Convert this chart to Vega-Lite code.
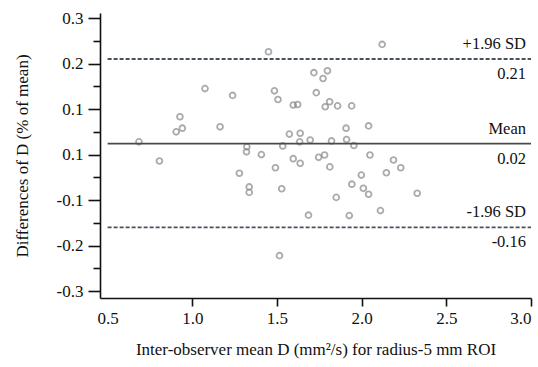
{
  "$schema": "https://vega.github.io/schema/vega-lite/v6.json",
  "width": 431,
  "height": 285,
  "autosize": {"type": "none"},
  "padding": {"left": 100, "top": 13, "right": 7, "bottom": 69},
  "background": "white",
  "config": {
    "view": {"stroke": null},
    "font": "Liberation Serif",
    "axis": {
      "domainColor": "#111",
      "domainWidth": 1.6,
      "tickColor": "#111",
      "tickWidth": 1.6,
      "labelFont": "Liberation Serif",
      "labelFontSize": 17,
      "labelColor": "#111",
      "titleFont": "Liberation Serif",
      "titleFontSize": 17,
      "titleFontWeight": "normal",
      "titleColor": "#111",
      "grid": false
    }
  },
  "datasets": {
    "pts": [
      {"m": 0.685, "d": 0.028}, {"m": 0.806, "d": -0.014}, {"m": 0.905, "d": 0.050},
      {"m": 0.941, "d": 0.058}, {"m": 0.927, "d": 0.083}, {"m": 1.075, "d": 0.145},
      {"m": 1.164, "d": 0.061}, {"m": 1.238, "d": 0.130}, {"m": 1.278, "d": -0.041},
      {"m": 1.322, "d": 0.017}, {"m": 1.320, "d": 0.006}, {"m": 1.408, "d": 0.000},
      {"m": 1.336, "d": -0.071}, {"m": 1.336, "d": -0.083}, {"m": 1.450, "d": 0.226},
      {"m": 1.485, "d": 0.140}, {"m": 1.506, "d": 0.121}, {"m": 1.491, "d": -0.029},
      {"m": 1.534, "d": 0.019}, {"m": 1.528, "d": -0.075}, {"m": 1.515, "d": -0.222},
      {"m": 1.573, "d": 0.045}, {"m": 1.596, "d": 0.109}, {"m": 1.622, "d": 0.110},
      {"m": 1.596, "d": -0.009}, {"m": 1.637, "d": 0.047}, {"m": 1.634, "d": 0.028},
      {"m": 1.637, "d": -0.019}, {"m": 1.696, "d": 0.032}, {"m": 1.686, "d": -0.133},
      {"m": 1.718, "d": 0.180}, {"m": 1.798, "d": 0.184}, {"m": 1.772, "d": 0.167},
      {"m": 1.732, "d": 0.136}, {"m": 1.746, "d": -0.006}, {"m": 1.781, "d": -0.001},
      {"m": 1.811, "d": 0.116}, {"m": 1.785, "d": 0.105}, {"m": 1.812, "d": -0.027},
      {"m": 1.822, "d": 0.030}, {"m": 1.858, "d": 0.107}, {"m": 1.850, "d": -0.094},
      {"m": 1.908, "d": 0.058}, {"m": 1.911, "d": 0.033}, {"m": 1.941, "d": 0.107},
      {"m": 1.942, "d": -0.065}, {"m": 1.927, "d": -0.134}, {"m": 1.954, "d": 0.020},
      {"m": 1.998, "d": -0.045}, {"m": 2.010, "d": -0.074}, {"m": 2.041, "d": -0.087},
      {"m": 2.041, "d": 0.063}, {"m": 2.049, "d": -0.001}, {"m": 2.111, "d": -0.123},
      {"m": 2.121, "d": 0.242}, {"m": 2.146, "d": -0.040}, {"m": 2.188, "d": -0.012},
      {"m": 2.231, "d": -0.029}, {"m": 2.328, "d": -0.085}
    ],
    "lines": [
      {"v": 0.21, "kind": "sd", "lab1": "+1.96 SD", "lab2": "0.21"},
      {"v": 0.024, "kind": "mean", "lab1": "Mean", "lab2": "0.02"},
      {"v": -0.16, "kind": "sd", "lab1": "-1.96 SD", "lab2": "-0.16"}
    ]
  },
  "resolve": {"axis": {"y": "independent"}},
  "layer": [
    {
      "data": {"name": "pts"},
      "mark": {"type": "point", "shape": "circle", "filled": false, "stroke": "#888888", "strokeWidth": 1.8, "size": 34},
      "encoding": {
        "x": {
          "field": "m", "type": "quantitative",
          "scale": {"domain": [0.455, 3.0], "nice": false, "zero": false},
          "axis": {
            "values": [0.5, 1.0, 1.5, 2.0, 2.5, 3.0],
            "format": ".1f",
            "tickSize": 8,
            "labelPadding": 4,
            "labelFlush": 2,
            "tickOpacity": {"condition": {"test": "datum.value == 0.5", "value": 0}, "value": 1},
            "title": "Inter-observer mean D (mm²/s) for radius-5 mm ROI",
            "titlePadding": 15
          }
        },
        "y": {
          "field": "d", "type": "quantitative",
          "scale": {"domain": [-0.315, 0.311], "nice": false, "zero": false},
          "axis": {
            "orient": "left",
            "values": [-0.3, -0.2, -0.1, 0, 0.1, 0.2, 0.3],
            "labelExpr": "datum.value == 0 ? '0.1' : (datum.value < 0 ? '-' + format(-datum.value, '.1f') : format(datum.value, '.1f'))",
            "tickSize": 12,
            "labelPadding": 5,
            "labelFlush": false,
            "title": "Differences of D (% of mean)",
            "titlePadding": 25
          }
        }
      }
    },
    {
      "data": {"name": "lines"},
      "transform": [{"filter": "datum.kind == 'sd'"}],
      "mark": {"type": "rule", "stroke": "#46535e", "strokeWidth": 1.8, "strokeDash": [4, 2]},
      "encoding": {
        "x": {"datum": 0.5, "type": "quantitative"},
        "x2": {"datum": 3.0},
        "y": {"field": "v", "type": "quantitative", "axis": null}
      }
    },
    {
      "data": {"name": "lines"},
      "transform": [{"filter": "datum.kind == 'mean'"}],
      "mark": {"type": "rule", "stroke": "#4a4a4a", "strokeWidth": 1.6},
      "encoding": {
        "x": {"datum": 0.5, "type": "quantitative"},
        "x2": {"datum": 3.0},
        "y": {
          "field": "v", "type": "quantitative",
          "axis": {
            "orient": "left",
            "values": [-0.25, -0.15, -0.05, 0.05, 0.15, 0.25],
            "labels": false,
            "domain": false,
            "tickSize": 7,
            "title": null
          }
        }
      }
    },
    {
      "data": {"name": "lines"},
      "mark": {"type": "text", "align": "right", "baseline": "middle", "dx": -5, "dy": -15, "font": "Liberation Serif", "fontSize": 16.5, "color": "#111"},
      "encoding": {
        "x": {"datum": 3.0, "type": "quantitative"},
        "y": {"field": "v", "type": "quantitative", "axis": null},
        "text": {"field": "lab1"}
      }
    },
    {
      "data": {"name": "lines"},
      "mark": {"type": "text", "align": "right", "baseline": "middle", "dx": -5, "dy": 15, "font": "Liberation Serif", "fontSize": 16.5, "color": "#111"},
      "encoding": {
        "x": {"datum": 3.0, "type": "quantitative"},
        "y": {"field": "v", "type": "quantitative", "axis": null},
        "text": {"field": "lab2"}
      }
    },
    {
      "mark": {"type": "rect", "fill": null, "stroke": "#111", "strokeWidth": 1.4},
      "encoding": {
        "x": {"datum": 0.455, "type": "quantitative"},
        "x2": {"datum": 0.5},
        "y": {"datum": -0.315, "type": "quantitative", "axis": null},
        "y2": {"datum": -0.298}
      }
    }
  ]
}
